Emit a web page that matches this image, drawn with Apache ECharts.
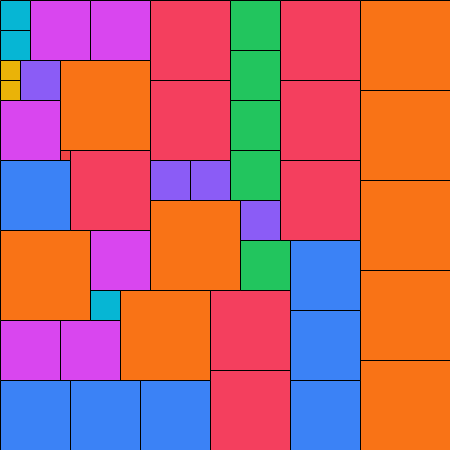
<!DOCTYPE html>
<html>
<head>
<meta charset="utf-8">
<script src="https://cdn.jsdelivr.net/npm/echarts@6/dist/echarts.min.js"></script>
<style>html,body{margin:0;padding:0;background:#fff;}#c{width:450px;height:450px;}</style>
</head>
<body>
<div id="c"></div>
<script>
// Square packing: each square has a left x, top y, side size and a colour group
const groups = ['cyan', 'magenta', 'rose', 'green', 'orange', 'yellow', 'purple', 'red', 'blue'];
const groupColors = ['#06b6d4', '#d946ef', '#f43f5e', '#22c55e', '#f97316', '#eab308', '#8b5cf6', '#ef4444', '#3b82f6'];

const squareX    = [0, 0, 90,   30, 90, 0, 90, 0, 60,   150, 150, 280, 280, 280, 70, 210, 210,   230, 230, 230, 230, 240,   360, 360, 360, 360, 360, 60, 150, 0, 120,   0, 0,   20, 150, 190, 240,   60,   0, 290, 290, 290, 0, 70, 140];
const squareY    = [0, 30, 290, 0, 0, 100, 230, 320, 320,  0, 80, 0, 80, 160, 150, 290, 370,        0, 50, 100, 150, 240,       0, 90, 180, 270, 360, 60, 200, 230, 290,  60, 80,  60, 160, 160, 200,   150, 160, 240, 310, 380, 380, 380, 380];
const squareSize = [30, 30, 30, 60, 60, 60, 60, 60, 60,   80, 80, 80, 80, 80, 80, 80, 80,          50, 50, 50, 50, 50,         90, 90, 90, 90, 90, 90, 90, 90, 90,        20, 20,  40, 40, 40, 40,      10,   70, 70, 70, 70, 70, 70, 70];
const squareGroup = [0, 0, 0,  1, 1, 1, 1, 1, 1,           2, 2, 2, 2, 2, 2, 2, 2,                  3, 3, 3, 3, 3,              4, 4, 4, 4, 4, 4, 4, 4, 4,                 5, 5,    6, 6, 6, 6,          7,    8, 8, 8, 8, 8, 8, 8];

const data = squareX.map((x, i) => [x, squareY[i], squareSize[i], squareGroup[i]]);

const chart = echarts.init(document.getElementById('c'), null, {renderer: 'canvas'});
chart.setOption({
  animation: false,
  grid: {left: 0, right: 0, top: 0, bottom: 0},
  xAxis: {type: 'value', min: 0, max: 450, show: false},
  yAxis: {type: 'value', min: 0, max: 450, inverse: true, show: false},
  series: [{
    type: 'custom',
    data: data,
    encode: {x: 0, y: 1},
    renderItem: function (params, api) {
      const p0 = api.coord([api.value(0), api.value(1)]);
      const p1 = api.coord([api.value(0) + api.value(2), api.value(1) + api.value(2)]);
      return {
        type: 'rect',
        shape: {x: p0[0] + 0.5, y: p0[1] + 0.5, width: p1[0] - p0[0], height: p1[1] - p0[1]},
        style: {fill: groupColors[api.value(3)], stroke: '#000', lineWidth: 1}
      };
    }
  }]
});
</script>
</body>
</html>
